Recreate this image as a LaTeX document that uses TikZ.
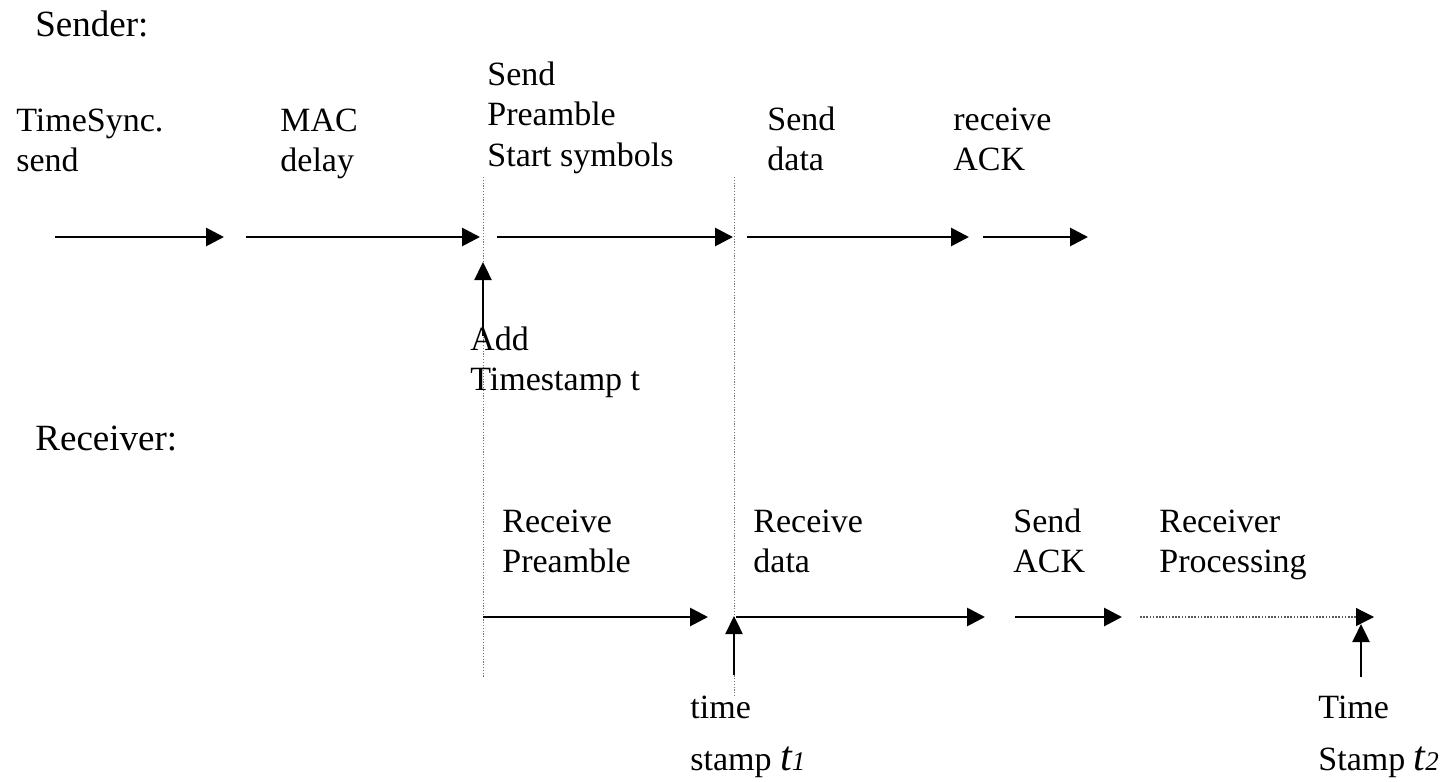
\documentclass[tikz,border=0pt]{standalone}
\usepackage{fontspec}
\setmainfont{Liberation Serif}
\usetikzlibrary{arrows.meta}
\newcommand{\lines}[1]{\begin{tabular}[t]{@{}l@{}}#1\end{tabular}}
\newcommand{\tsub}[1]{{\fontsize{21}{21}\selectfont\itshape t}{\fontsize{13.5}{13.5}\selectfont\itshape #1}}
\begin{document}
\begin{tikzpicture}[x=0.5pt,y=-0.5pt,
  lbl/.style={anchor=base west, inner sep=0pt, font=\fontsize{17}{20}\selectfont},
  head/.style={anchor=base west, inner sep=0pt, font=\fontsize{18.5}{21}\selectfont},
  flow/.style={line width=1.4pt, -{Triangle[length=9pt,width=9pt]}},
  stampflow/.style={line width=1.2pt, -{Triangle[length=9pt,width=8.5pt]}},
  guide/.style={black!55, line width=0.5pt, dash pattern=on 0.6pt off 0.8pt},
  procflow/.style={black!65, line width=0.6pt, dash pattern=on 0.8pt off 0.8pt,
    -{Triangle[length=9pt,width=9pt,color=black,fill=black]}}]
\useasboundingbox (0,0) rectangle (1443,781);

% --- headings
\node[head] (sender) at (35,37) {Sender:};
\node[head] (receiver) at (35,450) {Receiver:};

% --- sender phases
\node[lbl] (tsync) at (16,132) {\lines{TimeSync.\\send}};
\node[lbl] (mac) at (280,132) {\lines{MAC\\delay}};
\node[lbl] (pre) at (487,86) {\lines{Send\\Preamble\\Start symbols}};
\node[lbl] (sdata) at (767,130) {\lines{Send\\data}};
\node[lbl] (rack) at (953,130) {\lines{receive\\ACK}};

\coordinate (s1a) at (55,237);  \coordinate (s1b) at (224,237);
\coordinate (s2a) at (246,237); \coordinate (s2b) at (480,237);
\coordinate (s3a) at (497,237); \coordinate (s3b) at (733,237);
\coordinate (s4a) at (747,237); \coordinate (s4b) at (969,237);
\coordinate (s5a) at (983,237); \coordinate (s5b) at (1088,237);
\draw[flow] (s1a) -- (s1b);
\draw[flow] (s2a) -- (s2b);
\draw[flow] (s3a) -- (s3b);
\draw[flow] (s4a) -- (s4b);
\draw[flow] (s5a) -- (s5b);

% --- timing guides
\coordinate (g1a) at (483,177); \coordinate (g1b) at (483,677);
\coordinate (g2a) at (734,177); \coordinate (g2b) at (734,697);
\draw[guide] (g1a) -- (g1b);
\draw[guide] (g2a) -- (g2b);

% --- timestamp added by the sender
\coordinate (addfoot) at (483,336); \coordinate (addtip) at (483,262);
\draw[stampflow] (addfoot) -- (addtip);
\node[lbl] (addts) at (470,350) {\lines{Add\\Timestamp t}};

% --- receiver phases
\node[lbl] (rpre) at (502,532) {\lines{Receive\\Preamble}};
\node[lbl] (rdata) at (753,532) {\lines{Receive\\data}};
\node[lbl] (sack) at (1013,532) {\lines{Send\\ACK}};
\node[lbl] (proc) at (1159,532) {\lines{Receiver\\Processing}};

\coordinate (r1a) at (483,617);  \coordinate (r1b) at (708,617);
\coordinate (r2a) at (736,617);  \coordinate (r2b) at (985,617);
\coordinate (r3a) at (1015,617); \coordinate (r3b) at (1122,617);
\coordinate (r4a) at (1140,617); \coordinate (r4b) at (1374,617);
\draw[flow] (r1a) -- (r1b);
\draw[flow] (r2a) -- (r2b);
\draw[flow] (r3a) -- (r3b);
\draw[procflow] (r4a) -- (r4b);

% --- receiver timestamps
\coordinate (t1foot) at (734,675); \coordinate (t1tip) at (734,616);
\draw[stampflow] (t1foot) -- (t1tip);
\node[lbl] (t1) at (690,718) {\begin{tabular}[t]{@{}l@{}}time\\[6pt]stamp \tsub{1}\end{tabular}};

\coordinate (t2foot) at (1361,677); \coordinate (t2tip) at (1361,624);
\draw[stampflow] (t2foot) -- (t2tip);
\node[lbl] (t2) at (1318,718) {\begin{tabular}[t]{@{}l@{}}Time\\[6pt]Stamp \tsub{2}\end{tabular}};
\end{tikzpicture}
\end{document}
